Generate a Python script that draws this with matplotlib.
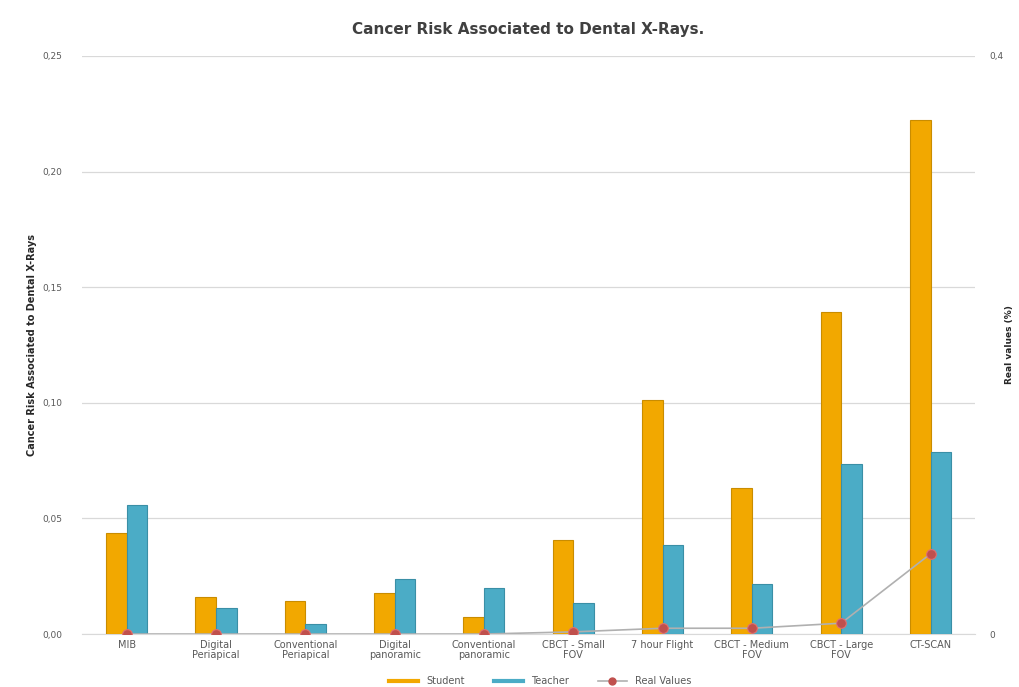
import matplotlib
matplotlib.use("Agg")
import matplotlib.pyplot as plt
from matplotlib.lines import Line2D
import numpy as np

# datos
categories = ["MIB", "Digital\nPeriapical", "Conventional\nPeriapical", "Digital\npanoramic",
              "Conventional\npanoramic", "CBCT - Small\nFOV", "7 hour Flight",
              "CBCT - Medium\nFOV", "CBCT - Large\nFOV", "CT-SCAN"]
student = [0.0437, 0.0160, 0.0143, 0.0177, 0.0074, 0.0407, 0.1012, 0.0631, 0.1392, 0.2222]
teacher = [0.0558, 0.0112, 0.0043, 0.0238, 0.0199, 0.0134, 0.0385, 0.0216, 0.0735, 0.0787]
real_values = [0.0, 0.0, 0.0, 0.0, 0.0, 0.0015, 0.004, 0.004, 0.0075, 0.0555]
left_ticks = [0.00, 0.05, 0.10, 0.15, 0.20, 0.25]
right_ticks = [0, 0.4]

orange = "#F2A800"
blue = "#4BACC6"
red = "#C0504D"
grey_txt = "#595959"

fig = plt.figure(figsize=(10.19, 6.87), dpi=100)
ax = fig.add_axes([0.0805, 0.0771, 0.8765, 0.8414])
ax2 = ax.twinx()

x = np.arange(len(categories))
w = 0.23
ax.bar(x - w / 2, student, w, color=orange, edgecolor="#C98C00", linewidth=0.8, zorder=3)
ax.bar(x + w / 2, teacher, w, color=blue, edgecolor="#3A8FA6", linewidth=0.8, zorder=3)

ax2.plot(x, real_values, color="#B0B0B0", linewidth=1.2, zorder=4)
ax2.plot(x, real_values, linestyle="none", marker="o", ms=7, color=red,
         markeredgecolor="#E07070", markeredgewidth=0.8, zorder=5)

ax.set_xlim(-0.5, len(categories) - 0.5)
ax.set_ylim(0, 0.25)
ax2.set_ylim(0, 0.4)

ax.set_yticks(left_ticks)
ax.set_yticklabels([f"{t:.2f}".replace(".", ",") for t in left_ticks], fontsize=6.5, color=grey_txt)
ax2.set_yticks(right_ticks)
ax2.set_yticklabels(["0", "0,4"], fontsize=6.5, color=grey_txt)
ax.set_xticks(x)
ax.set_xticklabels(categories, fontsize=7, color=grey_txt, linespacing=1.1)

ax.grid(axis="y", color="#D9D9D9", linewidth=0.9, zorder=0)
ax.set_axisbelow(True)
for a in (ax, ax2):
    for s in a.spines.values():
        s.set_visible(False)
ax.tick_params(length=0, pad=14)
ax2.tick_params(length=0, pad=10)
ax.spines["bottom"].set_visible(True)
ax.spines["bottom"].set_color("#D9D9D9")
ax.tick_params(axis="x", pad=4)

ax.set_ylabel("Cancer Risk Associated to Dental X-Rays", fontsize=7, fontweight="bold",
              color="#262626", labelpad=4)
ax2.set_ylabel("Real values (%)", fontsize=6.5, fontweight="bold", color="#262626", labelpad=1)
ax.set_title("Cancer Risk Associated to Dental X-Rays.", fontsize=11, fontweight="bold",
             color="#404040", pad=16)

handles = [Line2D([0], [0], color=orange, lw=3),
           Line2D([0], [0], color=blue, lw=3),
           Line2D([0], [0], color="#B0B0B0", lw=1.2, marker="o", ms=5, markerfacecolor=red,
                  markeredgecolor=red)]
fig.legend(handles, ["Student", "Teacher", "Real Values"], loc="lower center",
           bbox_to_anchor=(0.53, -0.012), ncol=3, frameon=False, fontsize=7,
           handlelength=3, columnspacing=3, labelcolor=grey_txt)

fig.savefig("out.png", dpi=100)
